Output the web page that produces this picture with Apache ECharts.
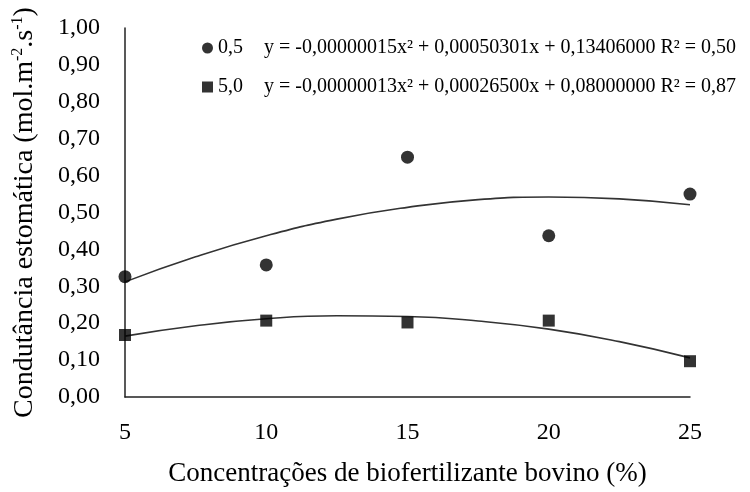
<!DOCTYPE html>
<html>
<head>
<meta charset="utf-8">
<script src="https://cdn.jsdelivr.net/npm/echarts@6/dist/echarts.min.js"></script>
<style>html,body{margin:0;padding:0;background:#fff;}#c{width:750px;height:492px;}</style>
</head>
<body>
<div id="c"></div>
<script>
// Data
const xValues = [5, 10, 15, 20, 25];
const seriesNames = ['0,5', '5,0'];
const circleValues = [0.326, 0.358, 0.65, 0.437, 0.55];
const squareValues = [0.168, 0.207, 0.202, 0.207, 0.097];
// trend curves
const trendX = [5, 7.5, 10, 12.5, 15, 17.5, 20, 22.5, 25];
const circleTrend = [0.312, 0.38, 0.437, 0.482, 0.514, 0.535, 0.542, 0.537, 0.521];
const squareTrend = [0.165, 0.193, 0.212, 0.220, 0.218, 0.206, 0.184, 0.150, 0.106];
const equations = [
  'y = -0,00000015x\u00B2 + 0,00050301x + 0,13406000 R\u00B2 = 0,50',
  'y = -0,00000013x\u00B2 + 0,00026500x + 0,08000000 R\u00B2 = 0,87'
];
const xTitle = 'Concentrações de biofertilizante bovino (%)';
const yTitle = 'Condutância estomática (mol.m{sup|-2}.s{sup|-1})';

const font = 'Liberation Serif';
const pairs = (xs, ys) => xs.map((x, i) => [x, ys[i]]);

const chart = echarts.init(document.getElementById('c'));
chart.setOption({
  backgroundColor: '#fff',
  animation: false,
  grid: { left: 125, right: 60, top: 28, bottom: 82 },
  legend: {
    data: seriesNames,
    orient: 'vertical',
    left: 197,
    top: 33,
    itemWidth: 11,
    itemHeight: 11,
    itemGap: 19,
    formatter: function (name) {
      const i = seriesNames.indexOf(name);
      return '{n|' + name + '}{e|' + equations[i] + '}';
    },
    textStyle: {
      fontFamily: font, fontSize: 20, color: '#000',
      rich: {
        n: { fontFamily: font, fontSize: 20, color: '#000' },
        e: { fontFamily: font, fontSize: 20, color: '#000', padding: [0, 0, 0, 21] }
      }
    }
  },
  xAxis: {
    type: 'value', min: 5, max: 25, interval: 5,
    name: xTitle, nameLocation: 'middle', nameGap: 63,
    nameTextStyle: { fontFamily: font, fontSize: 27, color: '#000' },
    axisLine: { lineStyle: { color: '#222', width: 1.5 } },
    axisTick: { show: false },
    splitLine: { show: false },
    axisLabel: { fontFamily: font, fontSize: 24, color: '#000', margin: 24 }
  },
  yAxis: {
    type: 'value', min: 0, max: 1, interval: 0.1,
    name: yTitle, nameLocation: 'middle', nameGap: 85,
    nameTextStyle: {
      fontFamily: font, fontSize: 28, color: '#000',
      rich: { sup: { fontFamily: font, fontSize: 16, color: '#000', verticalAlign: 'top', lineHeight: 30 } }
    },
    axisLine: { show: true, lineStyle: { color: '#222', width: 1.5 } },
    axisTick: { show: false },
    splitLine: { show: false },
    axisLabel: {
      fontFamily: font, fontSize: 24, color: '#000', margin: 25,
      formatter: v => v.toFixed(2).replace('.', ',')
    }
  },
  series: [
    {
      name: seriesNames[0], type: 'scatter', symbol: 'circle', symbolSize: 13,
      itemStyle: { color: '#000' }, data: pairs(xValues, circleValues), z: 5
    },
    {
      name: seriesNames[1], type: 'scatter', symbol: 'rect', symbolSize: 12,
      itemStyle: { color: '#000' }, data: pairs(xValues, squareValues), z: 5
    },
    {
      name: 'trend1', type: 'line', smooth: true, symbol: 'none',
      lineStyle: { color: '#333', width: 1.6 }, data: pairs(trendX, circleTrend)
    },
    {
      name: 'trend2', type: 'line', smooth: true, symbol: 'none',
      lineStyle: { color: '#333', width: 1.6 }, data: pairs(trendX, squareTrend)
    }
  ]
});
</script>
</body>
</html>
